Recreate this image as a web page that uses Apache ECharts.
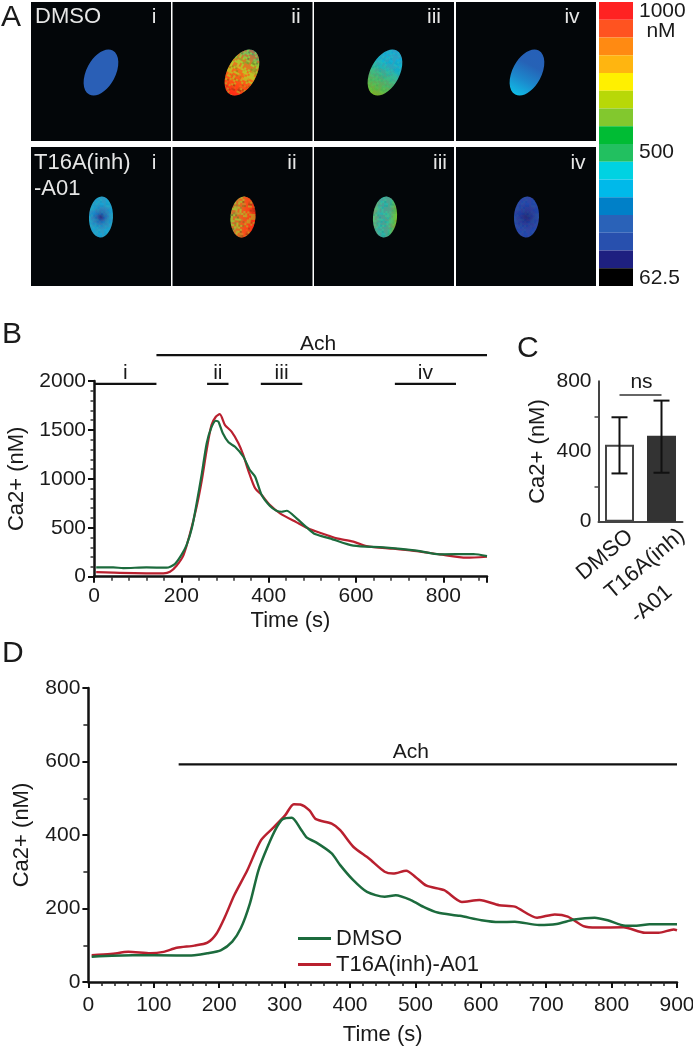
<!DOCTYPE html>
<html><head><meta charset="utf-8">
<style>html,body{margin:0;padding:0;background:#fff}#c{width:693px;height:1047px}</style>
<script src="https://cdn.jsdelivr.net/npm/echarts@6/dist/echarts.min.js"></script>
</head><body><div id="c"></div>
<script>
// Panel A colour scale, top to bottom
const scaleColors = ['#FF2222','#FF5320','#FF8A12','#FFB510','#FFF000','#B8D808','#82C82E','#00BC34','#22C060','#00D2E2','#00B9EA','#0080C8','#2A62B8','#2850AE','#1E2080','#000000'];

// Panel B traces
const bGreenT = [5,44,67,120,166,185,200,212,224,235,247,258,268,279,285,295,308,323,342,357,369,384,403,418,430,441,464,487,506,540,594,663,739,792,869,900];
const bGreenV = [95,95,88,95,92,129,221,323,494,749,1056,1362,1516,1594,1584,1465,1373,1328,1226,1090,1022,834,722,674,664,674,596,504,436,392,317,300,266,228,232,211];
const bRedT = [5,44,120,159,174,189,205,220,235,247,258,269,279,288,300,315,331,342,353,369,384,403,426,464,495,540,556,594,624,685,739,792,853,900];
const bRedV = [47,41,35,35,50,112,221,443,715,988,1294,1550,1635,1662,1550,1482,1362,1243,1090,903,834,732,647,555,484,415,392,358,313,286,262,228,194,204];

// Panel B period bars
const periodNames = ['i','ii','iii','iv'];
const periodStart = [0,259,382,689];
const periodEnd = [143,308,477,829];
const periodLevel = 1970;
const achStartB = 143, achEnd = 900, achLevelB = 2265, achLabelB = 513;

// Panel C
const cCategories = ['DMSO','T16A(inh)\n-A01'];
const cMeans = [438,490];
const cLow = [275,279];
const cHigh = [595,690];
const nsLevel = 722;

// Panel D traces
const dGreenT = [5,68,135,162,182,203,220,233,247,260,274,287,297,311,324,334,348,372,385,405,426,453,470,493,514,534,568,601,628,652,689,716,743,774,794,821,838,858,900];
const dGreenV = [69,73,72,73,78,87,110,146,214,304,368,418,443,447,418,393,380,350,318,277,245,232,236,223,203,189,180,168,163,164,155,158,170,175,168,153,153,157,157];
const dRedT = [5,34,61,95,115,135,162,182,196,209,223,243,264,284,301,314,324,338,348,372,385,405,429,453,466,486,500,517,544,571,598,628,652,686,713,733,757,777,818,851,872,895,900];
const dRedV = [73,76,82,78,82,93,99,107,132,178,236,304,386,422,454,484,483,467,443,431,413,368,336,300,295,303,286,262,250,218,223,209,205,175,184,178,152,148,149,134,134,143,141];
const achStartD = 138, achLevelD = 592, achLabelD = 493;

const zip = (a,b) => a.map((x,i)=>[x,b[i]]);
const FONT = '"Liberation Sans", Arial, sans-serif';
const GREEN = '#1C6B3D', RED = '#B9202F', INK = '#1a1a1a';

// Fine mottling texture for the microscope cells (a fixed tile, not chart data)
function mottle(strength){
 const c=document.createElement('canvas');c.width=c.height=30;const x=c.getContext('2d');
 for(let i=0;i<15;i++)for(let j=0;j<15;j++){
  const h=Math.abs(Math.sin(i*12.9898+j*78.233)*43758.5453)%1;
  const k=Math.abs(Math.sin(i*39.346+j*11.135)*24634.6345)%1;
  x.fillStyle=h<.33?'rgba(255,40,20,'+strength+')':h<.66?'rgba(150,210,40,'+strength+')':'rgba(0,0,0,'+(strength*k*.6)+')';
  x.fillRect(i*2,j*2,2,2);
 }
 return c;
}

// Panel A furniture
const panelX = [31,172.5,314,456];
const panelW = 140;
const rowY = [2,147];
const rowH = 139;
const g = [];
rowY.forEach(y => panelX.forEach(x => g.push({type:'rect',shape:{x,y,width:panelW,height:rowH},style:{fill:'#030609'},z:1})));

const lin = (x0,y0,x1,y1,stops) => ({type:'linear',x:x0,y:y0,x2:x1,y2:y1,colorStops:stops.map((c,i)=>({offset:i/(stops.length-1),color:c}))});
const rad = (stops) => ({type:'radial',x:.5,y:.5,r:.55,colorStops:stops.map((c,i)=>({offset:i/(stops.length-1),color:c}))});
const blobs = [
 [101,72.5,14.5,25,28,'#2A5FB6',0],
 [242,72.5,14.5,25,28,lin(.5,1,.5,0,['#FF2418','#FF6A14','#E8B020','#A8C838','#58B088']),.45],
 [385,72.5,14.5,25,28,lin(.5,1,.5,0,['#6CC02C','#40B878','#12B4D2','#14ACDC']),.1],
 [527,72.5,14.5,25,28,lin(.5,1,.5,0,['#10BCE6','#1C88CC','#2662B6','#2660B8']),0],
 [101,217,12,20.5,3,rad(['#1C3090','#1C70BC','#1B8FCC','#18A4D4']),.08],
 [243,217,12.5,20.5,5,lin(1,.5,0,.5,['#FF2A14','#F8601A','#C8A030','#A8A440']),.45],
 [385,217,12,20.5,5,lin(1,.5,0,.5,['#70C030','#30B8A0','#28B4B0','#58B880']),.15],
 [526.5,217,12.5,20.5,3,rad(['#1A2A80','#1F3C9E','#2248AC']),.06]
];
blobs.forEach(b => {
 const base={type:'ellipse',x:b[0],y:b[1],rotation:-b[4]*Math.PI/180,shape:{cx:0,cy:0,rx:b[2],ry:b[3]}};
 g.push(Object.assign({},base,{style:{fill:b[5]},z:2}));
 if(b[6]>0) g.push(Object.assign({},base,{style:{fill:{image:mottle(b[6]),repeat:'repeat'}},z:3}));
});

const txt = (text,x,y,size,fill,extra,rot) => g.push({type:'text',x,y,z:5,rotation:rot||0,style:Object.assign({text,fill,font:size+'px '+FONT,textAlign:'left',textVerticalAlign:'middle'},extra||{})});
const W = '#E6E6E6';
txt('DMSO',35,17,22,W);
txt('T16A(inh)',34,163,22,W);
txt('-A01',34,189,22,W);
[[154,17,'i'],[296,17,'ii'],[434,17,'iii'],[572,17,'iv'],[154,163,'i'],[292,163,'ii'],[440,163,'iii'],[578,163,'iv']]
 .forEach(p=>txt(p[2],p[0],p[1],21,W,{textAlign:'center'}));
txt('1000',639,11,21,INK);
txt('nM',661,31,21,INK,{textAlign:'center'});
txt('500',639,152,21,INK);
txt('62.5',639,278,21,INK);
txt('A',1,18,30,INK);
txt('B',2,335,30,INK);
txt('C',517,349,30,INK);
txt('D',2,654,30,INK);
txt('ns',641.5,382,21,INK,{textAlign:'center'});
// Panel C category labels: the two-line label is left-aligned along the slant
const tilt = 40*Math.PI/180;
const cLines = cCategories.join('\n').split('\n');
txt(cLines[0],605,555,22,INK,{textAlign:'center'},tilt);
txt(cLines[1],645,564,22,INK,{textAlign:'center'},tilt);
txt(cLines[2],651.5,604.5,22,INK,{textAlign:'center'},tilt);

const axisLine = (c,w)=>({show:true,onZero:false,lineStyle:{color:c,width:w}});
const labelStyle = (size,margin)=>({color:INK,fontFamily:FONT,fontSize:size,margin,formatter:v=>String(v)});
const nameStyle = {color:INK,fontFamily:FONT,fontSize:22};
const noBounds = {outerBoundsMode:'none',containLabel:false};

const option = {
 animation:false,
 backgroundColor:'#fff',
 graphic:g,
 legend:{
  left:298,top:926,padding:0,orient:'vertical',icon:'rect',itemWidth:33,itemHeight:3,itemGap:1,
  textStyle:{color:INK,fontFamily:FONT,fontSize:22,lineHeight:25},
  data:[{name:'DMSO'},{name:'T16A(inh)-A01'}]
 },
 grid:[
  Object.assign({left:599,top:2,width:34,height:284},noBounds),
  Object.assign({left:94,top:381,width:393,height:195.7},noBounds),
  Object.assign({left:598.5,top:381.3,width:84,height:140.4},noBounds),
  Object.assign({left:88.4,top:688,width:588.6,height:294},noBounds)
 ],
 xAxis:[
  {gridIndex:0,type:'value',min:0,max:1,show:false},
  {gridIndex:1,type:'value',min:0,max:900,interval:200,name:'Time (s)',nameLocation:'middle',nameGap:33,nameTextStyle:nameStyle,
   axisLine:axisLine('#111',2.5),axisTick:{length:6,lineStyle:{color:'#111',width:2}},
   minorTick:{show:true,splitNumber:5,length:4,lineStyle:{color:'#333',width:1.5}},splitLine:{show:false},
   axisLabel:Object.assign(labelStyle(21,9),{showMaxLabel:false})},
  {gridIndex:2,type:'category',data:cCategories,axisLine:axisLine('#444',2),
   axisTick:{alignWithLabel:true,length:4,lineStyle:{color:'#444',width:2}},
   axisLabel:{show:false}},
  {gridIndex:3,type:'value',min:0,max:900,interval:100,name:'Time (s)',nameLocation:'middle',nameGap:42,nameTextStyle:nameStyle,
   axisLine:axisLine('#111',2.5),axisTick:{length:6,lineStyle:{color:'#111',width:2}},
   minorTick:{show:true,splitNumber:5,length:4,lineStyle:{color:'#222',width:1.5}},splitLine:{show:false},
   axisLabel:labelStyle(21,13)}
 ],
 yAxis:[
  {gridIndex:0,type:'category',inverse:true,show:false,data:scaleColors.map((c,i)=>String(i))},
  {gridIndex:1,type:'value',min:0,max:2000,interval:500,name:'Ca2+ (nM)',nameLocation:'middle',nameGap:60,nameTextStyle:nameStyle,
   axisLine:axisLine('#111',2.5),axisTick:{length:6,lineStyle:{color:'#111',width:2}},
   minorTick:{show:true,splitNumber:5,length:3.5,lineStyle:{color:'#333',width:1.5}},splitLine:{show:false},
   axisLabel:labelStyle(21,8)},
  {gridIndex:2,type:'value',min:0,max:800,interval:400,name:'Ca2+ (nM)',nameLocation:'middle',nameGap:50,nameTextStyle:nameStyle,
   axisLine:axisLine('#444',2),axisTick:{length:6,lineStyle:{color:'#444',width:2}},
   minorTick:{show:true,splitNumber:2,length:4,lineStyle:{color:'#444',width:1.5}},splitLine:{show:false},
   axisLabel:labelStyle(21,7)},
  {gridIndex:3,type:'value',min:0,max:800,interval:200,name:'Ca2+ (nM)',nameLocation:'middle',nameGap:55,nameTextStyle:nameStyle,
   axisLine:axisLine('#111',2.5),axisTick:{length:6,lineStyle:{color:'#111',width:2}},
   minorTick:{show:true,splitNumber:2,length:5,lineStyle:{color:'#222',width:1.5}},splitLine:{show:false},
   axisLabel:labelStyle(21,8)}
 ],
 series:[
  {type:'bar',xAxisIndex:0,yAxisIndex:0,barWidth:'101%',silent:true,
   data:scaleColors.map(c=>({value:1,itemStyle:{color:c}}))},

  {type:'line',name:'B red',xAxisIndex:1,yAxisIndex:1,data:zip(bRedT,bRedV),smooth:.25,symbol:'none',lineStyle:{color:RED,width:2.2}},
  {type:'line',name:'B green',xAxisIndex:1,yAxisIndex:1,data:zip(bGreenT,bGreenV),smooth:.25,symbol:'none',lineStyle:{color:GREEN,width:2.2}},
  {type:'line',name:'B Ach',xAxisIndex:1,yAxisIndex:1,clip:false,symbol:'none',lineStyle:{color:'#111',width:2.2},
   data:[[achStartB,achLevelB],[achEnd,achLevelB]]},
  ...periodNames.map((n,i)=>({type:'line',name:'p'+n,xAxisIndex:1,yAxisIndex:1,clip:false,symbol:'none',lineStyle:{color:'#111',width:2.2},
   data:[[periodStart[i],periodLevel],[periodEnd[i],periodLevel]]})),
  {type:'scatter',name:'B labels',xAxisIndex:1,yAxisIndex:1,clip:false,symbolSize:0,silent:true,itemStyle:{opacity:1},
   label:{show:true,position:'top',distance:0,color:INK,fontFamily:FONT,fontSize:21,formatter:p=>p.data[2]},
   data:periodNames.map((n,i)=>[(periodStart[i]+periodEnd[i])/2,periodLevel,n]).concat([[achLabelB,achLevelB,'Ach']])},

  {type:'bar',xAxisIndex:2,yAxisIndex:2,barWidth:29,
   data:cMeans.map((v,i)=>({value:v,itemStyle:i===0?{color:'#fff',borderColor:'#444',borderWidth:2}:{color:'#333',borderColor:'#333',borderWidth:0}}))},
  {type:'custom',name:'C err',xAxisIndex:2,yAxisIndex:2,clip:false,z:6,
   data:cCategories.map((c,i)=>[i,cLow[i],cHigh[i]]),
   encode:{x:0,y:[1,2]},
   renderItem:(p,api)=>{
    const a=api.coord([api.value(0),api.value(1)]),b=api.coord([api.value(0),api.value(2)]);
    const st={stroke:'#111',lineWidth:2,fill:null};
    return {type:'group',children:[
     {type:'line',shape:{x1:a[0],y1:a[1],x2:b[0],y2:b[1]},style:st},
     {type:'line',shape:{x1:a[0]-8,y1:a[1],x2:a[0]+8,y2:a[1]},style:st},
     {type:'line',shape:{x1:b[0]-8,y1:b[1],x2:b[0]+8,y2:b[1]},style:st}]};
   }},
  {type:'line',name:'ns',xAxisIndex:2,yAxisIndex:2,symbol:'none',lineStyle:{color:'#333',width:1.5},data:[[0,nsLevel],[1,nsLevel]]},

  {type:'line',name:'T16A(inh)-A01',xAxisIndex:3,yAxisIndex:3,data:zip(dRedT,dRedV),smooth:.25,symbol:'none',itemStyle:{color:RED},lineStyle:{color:RED,width:2.5}},
  {type:'line',name:'DMSO',xAxisIndex:3,yAxisIndex:3,data:zip(dGreenT,dGreenV),smooth:.25,symbol:'none',itemStyle:{color:GREEN},lineStyle:{color:GREEN,width:2.5}},
  {type:'line',name:'D Ach',xAxisIndex:3,yAxisIndex:3,symbol:'none',lineStyle:{color:'#111',width:2.2},
   data:[[achStartD,achLevelD],[achEnd,achLevelD]],
   markPoint:{symbolSize:0,itemStyle:{opacity:1},label:{show:true,position:'top',distance:2,color:INK,fontFamily:FONT,fontSize:21,formatter:'Ach'},data:[{coord:[achLabelD,achLevelD]}]}}
 ]
};
echarts.init(document.getElementById('c'),null,{renderer:'canvas'}).setOption(option);
</script></body></html>
